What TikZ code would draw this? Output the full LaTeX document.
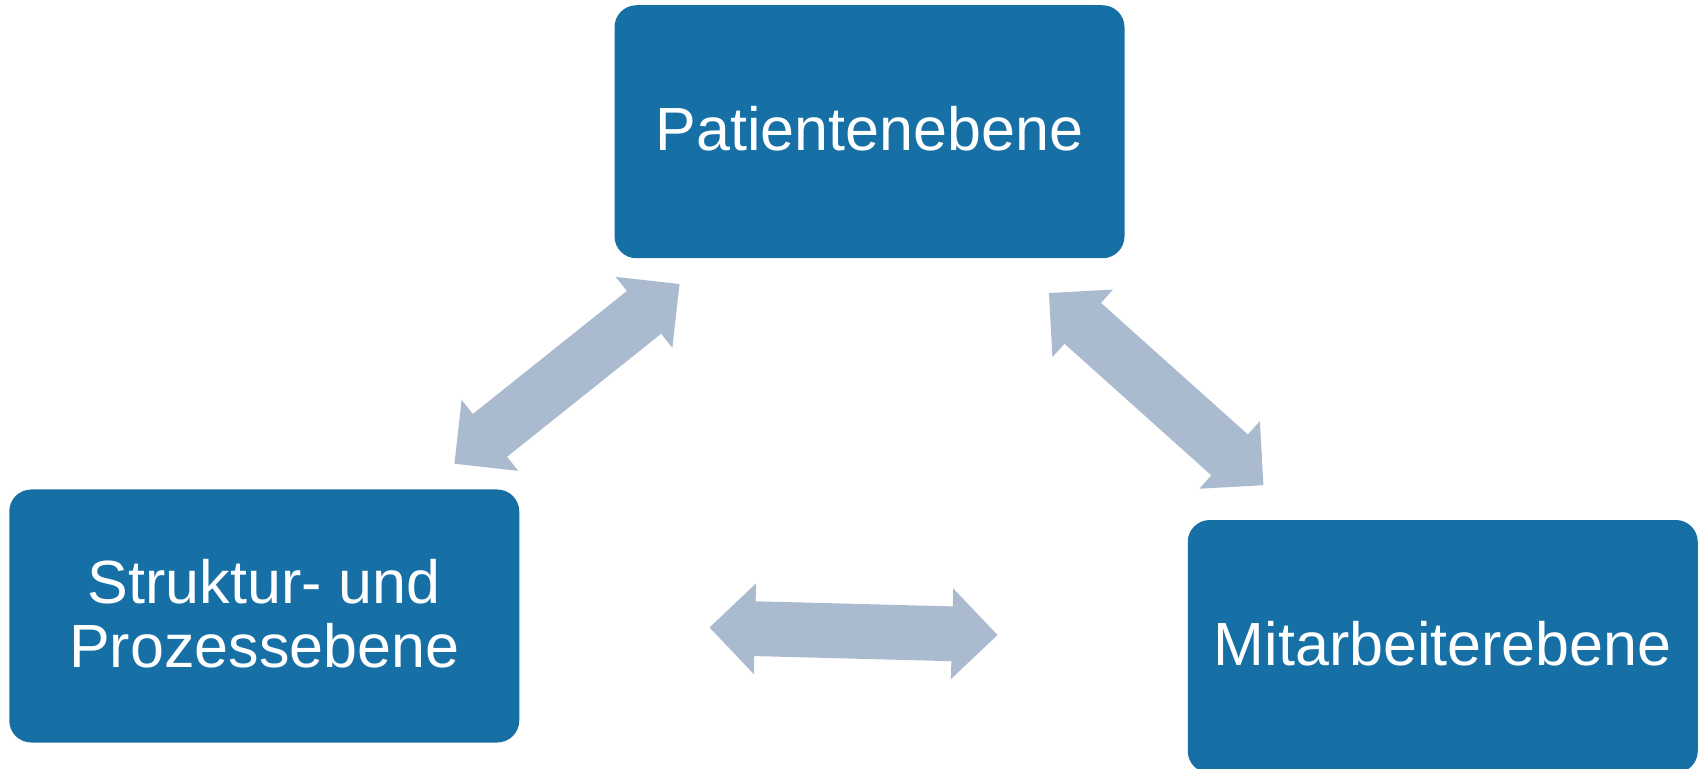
\documentclass[tikz,border=0pt]{standalone}
\usepackage{fontspec}
\setmainfont{Liberation Sans}
\usepackage{tikz}
\usepackage{xcolor}
\usetikzlibrary{shapes.arrows}
\definecolor{ebeneblue}{RGB}{22,112,166}
\definecolor{pfeilgrau}{RGB}{170,186,207}

\begin{document}
\begin{tikzpicture}[x=0.5pt,y=-0.5pt,
  ebene/.style={fill=ebeneblue,rounded corners=11pt,minimum width=255pt,minimum height=126.5pt,inner sep=0pt,text depth=3pt,text=white,align=center,font=\fontsize{30.5pt}{32pt}\selectfont},
  wechsel/.style={double arrow,sloped,fill=pfeilgrau,draw=none,inner xsep=0pt,inner ysep=13.5pt,minimum height=144pt,minimum width=45pt,double arrow head extend=9pt,double arrow tip angle=90}]
\useasboundingbox (0,0) rectangle (1701,769);
\node[ebene] (patient) at (869.5,131.75) {Patientenebene};
\node[ebene] (struktur) at (264.25,616) {Struktur- und\\Prozessebene};
\node[ebene] (mitarbeiter) at (1442.75,646.5) {Mitarbeiterebene};
\path (struktur) -- node[wechsel] {} (patient);
\path (patient) -- node[wechsel] {} (mitarbeiter);
\path (struktur) -- node[wechsel] {} (mitarbeiter);
\end{tikzpicture}
\end{document}
